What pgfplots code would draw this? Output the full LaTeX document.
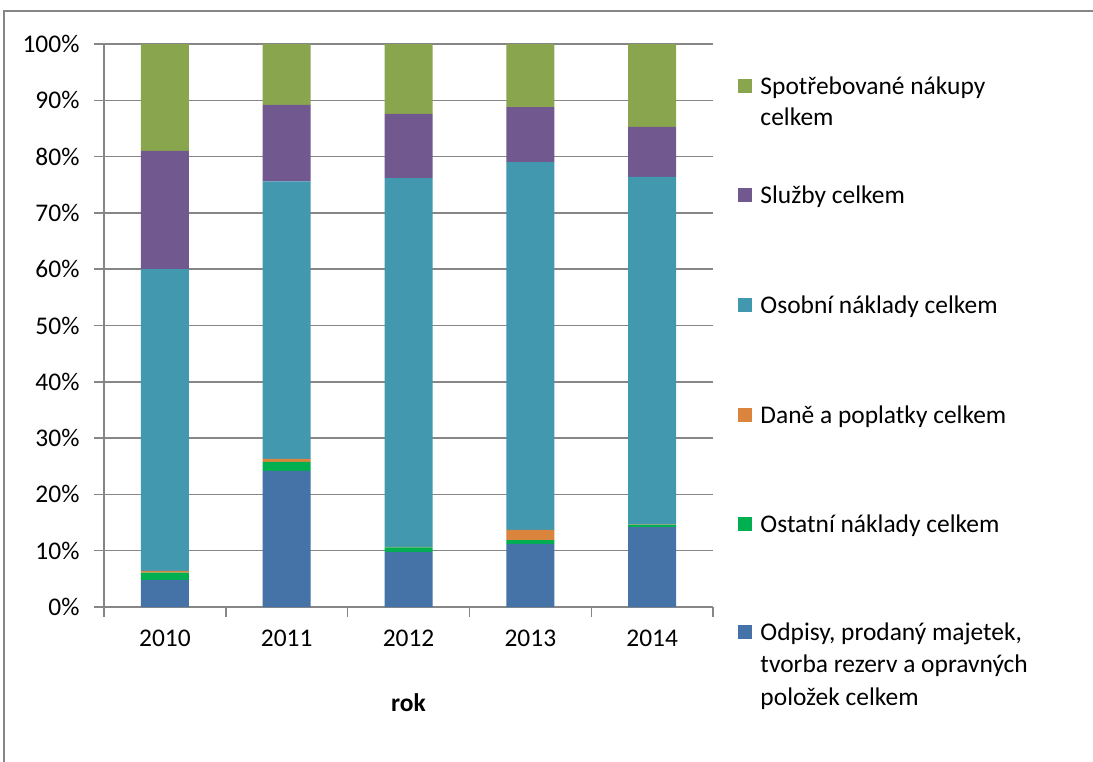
\documentclass[border=0pt]{standalone}
\usepackage{fontspec}
\setmainfont{Carlito}
\usepackage{pgfplots}
\pgfplotsset{compat=1.18}
\definecolor{cBlue}{HTML}{4572A7}
\definecolor{cGreen}{HTML}{00B050}
\definecolor{cOrange}{HTML}{DB843D}
\definecolor{cTeal}{HTML}{4198AF}
\definecolor{cPurple}{HTML}{71588F}
\definecolor{cOlive}{HTML}{89A54E}
\definecolor{gridgray}{HTML}{868686}

\begin{document}
\fontsize{10.6}{12.9}\selectfont
\begin{tikzpicture}
% 1 px of the reference = 0.4167pt
\begin{scope}[x=0.4167pt,y=0.4167pt]
\useasboundingbox (0,0) rectangle (1093,761);
\draw[gridgray, line width=1.2pt] (4,-10) -- (4,750) -- (1110,750);
\end{scope}

\begin{axis}[
  at={(43.34pt,64.17pt)}, anchor=south west,
  scale only axis,
  width=253.8pt, height=234.6pt,
  ybar stacked,
  bar width=20pt,
  xmin=-0.5, xmax=4.5,
  ymin=0, ymax=100,
  axis x line=bottom, axis y line=left,
  axis line style={-, gridgray, line width=0.6pt},
  tick align=outside,
  major tick length=4pt,
  tick style={gridgray, line width=0.6pt},
  xtick={-0.5,0.5,1.5,2.5,3.5,4.5},
  xticklabels={},
  extra x ticks={0,1,2,3,4},
  extra x tick labels={2010,2011,2012,2013,2014},
  extra x tick style={major tick length=0pt, grid=none,
    xticklabel style={yshift=-6pt}},
  ytick={0,10,...,100},
  yticklabel={\pgfmathprintnumber{\tick}\%},
  yticklabel style={xshift=-2.5pt},
  ymajorgrids=true,
  grid style={gridgray, line width=0.6pt},
  /pgf/number format/assume math mode=true,
  ticklabel style={font=\fontsize{10.6}{12}\selectfont, text=black},
  xlabel={\textbf{rok}},
  xlabel style={font=\fontsize{10.6}{12}\selectfont, yshift=-8pt},
]
\addplot[fill=cBlue, draw=none] coordinates {(0,4.8) (1,24.2) (2,9.8) (3,11.2) (4,14.2)};
\addplot[fill=cGreen, draw=none] coordinates {(0,1.3) (1,1.6) (2,0.8) (3,0.7) (4,0.4)};
\addplot[fill=cOrange, draw=none] coordinates {(0,0.3) (1,0.5) (2,0.1) (3,1.8) (4,0.05)};
\addplot[fill=cTeal, draw=none] coordinates {(0,53.6) (1,49.3) (2,65.5) (3,65.3) (4,61.75)};
\addplot[fill=cPurple, draw=none] coordinates {(0,21.0) (1,13.6) (2,11.4) (3,9.8) (4,8.9)};
\addplot[fill=cOlive, draw=none] coordinates {(0,19.0) (1,10.8) (2,12.4) (3,11.2) (4,14.7)};
\end{axis}

% legend
\begin{scope}[x=0.4167pt,y=0.4167pt, every node/.style={anchor=base west, inner sep=0pt}]
\fill[cOlive] (738,668) rectangle ++(14,14);
\node at (760,667) {Spotřebované nákupy};
\node at (760,636) {celkem};
\fill[cPurple] (738,559) rectangle ++(14,14);
\node at (760,558) {Služby celkem};
\fill[cTeal] (738,449) rectangle ++(14,14);
\node at (760,448) {Osobní náklady celkem};
\fill[cOrange] (738,339) rectangle ++(14,14);
\node at (760,338) {Daně a poplatky celkem};
\fill[cGreen] (738,230) rectangle ++(14,14);
\node at (760,229) {Ostatní náklady celkem};
\fill[cBlue] (738,122) rectangle ++(14,14);
\node at (760,121) {Odpisy, prodaný majetek,};
\node at (760,89) {tvorba rezerv a opravných};
\node at (760,56) {položek celkem};
\end{scope}
\end{tikzpicture}
\end{document}
